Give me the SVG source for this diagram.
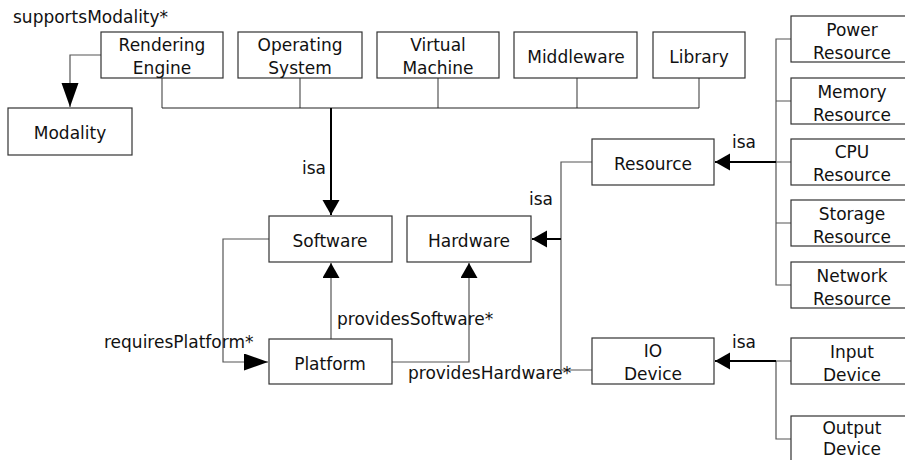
<svg xmlns="http://www.w3.org/2000/svg" width="905" height="460" viewBox="0 0 905 460">
<defs>
<style>
.box{fill:#fff;stroke:#333;stroke-width:1.2}
text{font-family:"DejaVu Sans","Liberation Sans",sans-serif;font-size:17px;fill:#111}
.c{text-anchor:middle}
.ln{fill:none;stroke:#555;stroke-width:1.2}
.dk{fill:none;stroke:#000;stroke-width:2}
</style>
<marker id="arr" markerUnits="userSpaceOnUse" markerWidth="16" markerHeight="18" refX="15" refY="8.5" orient="auto">
<path d="M0,0 L15,8.5 L0,17 z" fill="#000"/>
</marker>
<marker id="arrL" markerUnits="userSpaceOnUse" markerWidth="26" markerHeight="18" refX="24" refY="8.5" orient="auto">
<path d="M0,0 L24,8.5 L0,17 z" fill="#000"/>
</marker>
</defs>
<rect width="905" height="460" fill="#fff"/>

<g id="connectors">
<path class="ln" d="M162,78 V108 M300,78 V108 M438,78 V108 M577,78 V108 M699,78 V108"/>
<path class="ln" style="stroke:#222" d="M162,108 H699"/>
<path class="dk" d="M331,108 V215" marker-end="url(#arr)"/>
<path class="ln" d="M101,55 H70 V107" marker-end="url(#arrL)"/>
<path class="ln" d="M269,239 H223 V362 H268" marker-end="url(#arrL)"/>
<path class="ln" d="M331,339 V263" marker-end="url(#arr)"/>
<path class="ln" d="M392,362 H469 V263" marker-end="url(#arr)"/>
<path class="ln" d="M592,162 H561 V370 H592"/>
<path class="dk" d="M561,239 H532" marker-end="url(#arr)"/>
<path class="ln" d="M791,39 H776 V285 H791 M776,101 H791 M776,162 H791 M776,223 H791"/>
<path class="dk" d="M776,162 H715" marker-end="url(#arr)"/>
<path class="ln" d="M791,361 H776 V439 H791"/>
<path class="dk" d="M776,361 H715" marker-end="url(#arr)"/>
<text x="13" y="23">supportsModality*</text>
<text x="302" y="174">isa</text>
<text x="104" y="348">requiresPlatform*</text>
<text x="337" y="325">providesSoftware*</text>
<text x="408" y="379">providesHardware*</text>
<text x="529" y="205">isa</text>
<text x="732" y="148">isa</text>
<text x="732" y="348">isa</text>
</g>

<g id="rendering-engine"><rect class="box" x="101" y="32" width="122" height="46"/><text class="c" x="162" y="51">Rendering</text><text class="c" x="162" y="74">Engine</text></g>
<g id="operating-system"><rect class="box" x="238" y="32" width="124" height="46"/><text class="c" x="300" y="51">Operating</text><text class="c" x="300" y="74">System</text></g>
<g id="virtual-machine"><rect class="box" x="377" y="32" width="122" height="46"/><text class="c" x="438" y="51">Virtual</text><text class="c" x="438" y="74">Machine</text></g>
<g id="middleware"><rect class="box" x="514" y="32" width="123" height="46"/><text class="c" x="576" y="63">Middleware</text></g>
<g id="library"><rect class="box" x="653" y="32" width="92" height="46"/><text class="c" x="699" y="63">Library</text></g>
<g id="modality"><rect class="box" x="8" y="108" width="124" height="47"/><text class="c" x="70" y="139">Modality</text></g>
<g id="software"><rect class="box" x="269" y="216" width="123" height="46"/><text class="c" x="330" y="247">Software</text></g>
<g id="hardware"><rect class="box" x="407" y="216" width="124" height="46"/><text class="c" x="469" y="247">Hardware</text></g>
<g id="platform"><rect class="box" x="269" y="339" width="123" height="45"/><text class="c" x="330" y="370">Platform</text></g>
<g id="resource"><rect class="box" x="592" y="139" width="122" height="46"/><text class="c" x="653" y="170">Resource</text></g>
<g id="io-device"><rect class="box" x="592" y="338" width="122" height="46"/><text class="c" x="653" y="357">IO</text><text class="c" x="653" y="380">Device</text></g>
<g id="power-resource"><rect class="box" x="791" y="16" width="122" height="46"/><text class="c" x="852" y="36">Power</text><text class="c" x="852" y="59">Resource</text></g>
<g id="memory-resource"><rect class="box" x="791" y="78" width="122" height="46"/><text class="c" x="852" y="98">Memory</text><text class="c" x="852" y="121">Resource</text></g>
<g id="cpu-resource"><rect class="box" x="791" y="139" width="122" height="46"/><text class="c" x="852" y="158">CPU</text><text class="c" x="852" y="181">Resource</text></g>
<g id="storage-resource"><rect class="box" x="791" y="200" width="122" height="46"/><text class="c" x="852" y="220">Storage</text><text class="c" x="852" y="243">Resource</text></g>
<g id="network-resource"><rect class="box" x="791" y="262" width="122" height="46"/><text class="c" x="852" y="282">Network</text><text class="c" x="852" y="305">Resource</text></g>
<g id="input-device"><rect class="box" x="791" y="338" width="122" height="46"/><text class="c" x="852" y="358">Input</text><text class="c" x="852" y="381">Device</text></g>
<g id="output-device"><rect class="box" x="791" y="416" width="122" height="46"/><text class="c" x="852" y="434">Output</text><text class="c" x="852" y="455">Device</text></g>
</svg>
